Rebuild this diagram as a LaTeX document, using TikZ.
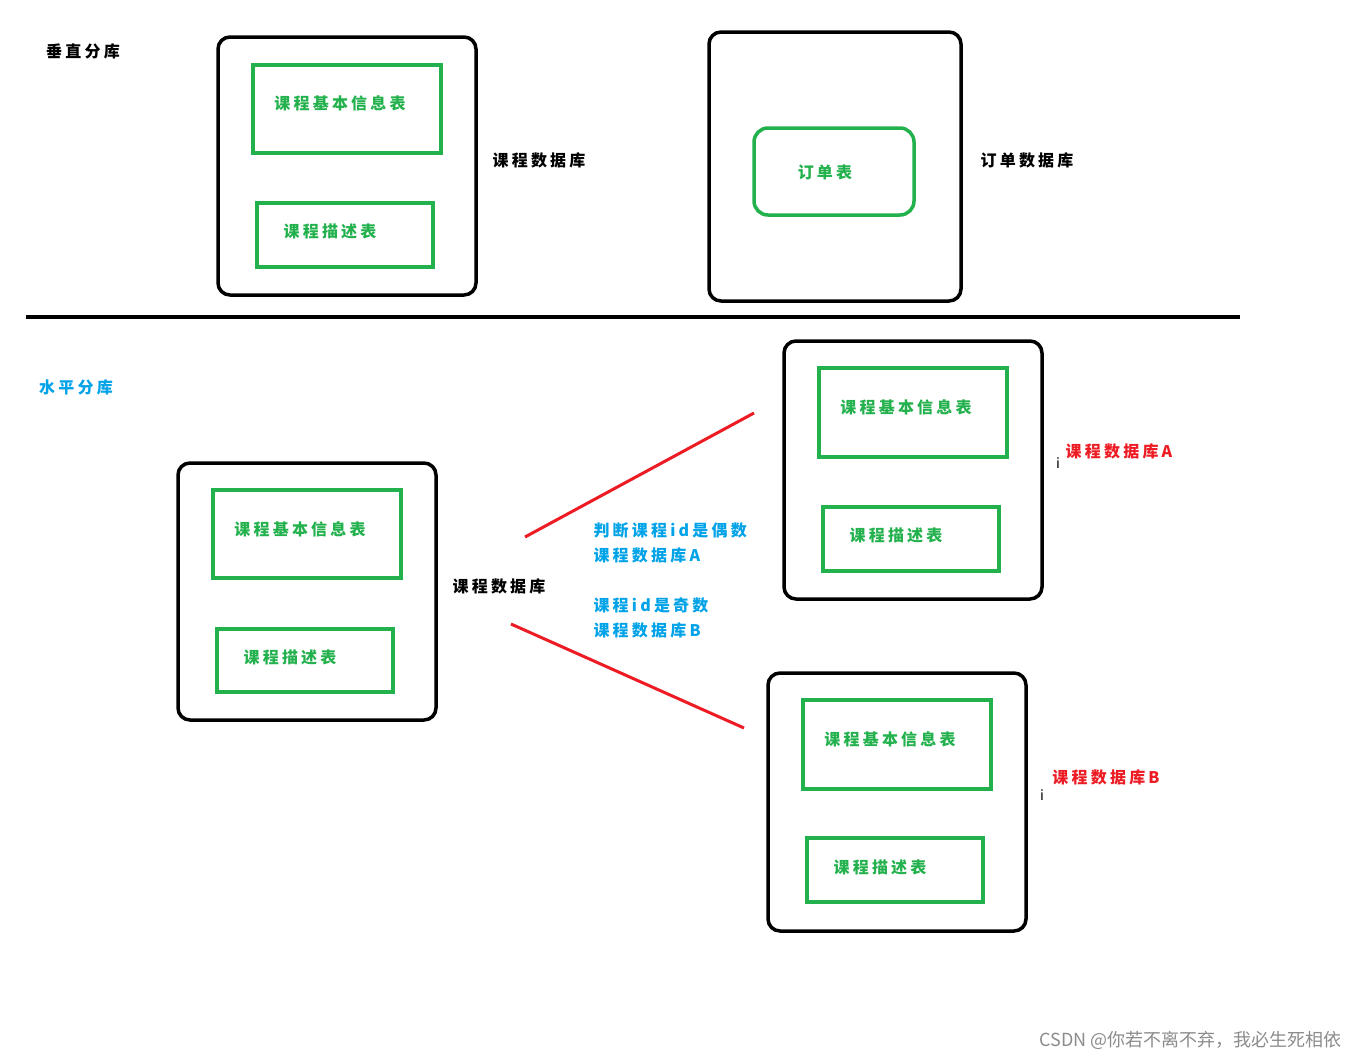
\documentclass[tikz,border=0pt]{standalone}
\usepackage{fontspec}
\setmainfont{Noto Sans CJK SC}[LetterSpace=20]
\newfontfamily\wmfont{Noto Sans CJK SC}
\definecolor{pg}{RGB}{34,177,76}
\definecolor{pr}{RGB}{237,28,36}
\definecolor{pb}{RGB}{0,162,232}
\begin{document}
\begin{tikzpicture}[x=1pt,y=-1pt,
 db/.style={draw=black,line width=3.5pt,rounded corners=12pt},
 tb/.style={draw=pg,line width=3.5pt},
 gt/.style={text=pg,font=\fontsize{16}{18}\selectfont\bfseries},
 lb/.style={font=\fontsize{16}{18}\selectfont\bfseries},
 rl/.style={draw=pr,line width=3pt}]
\useasboundingbox[fill=white] (0,0) rectangle (1351,1060);
\node[lb] (t1) at (83,51) {垂直分库};
\draw[db] (218,37) rectangle (476,295);
\draw[tb] (253,65) rectangle (441,153);
\node[gt] (a1) at (340,103) {课程基本信息表};
\draw[tb] (257,203) rectangle (433,267);
\node[gt] (a2) at (330,231) {课程描述表};
\node[lb] (l1) at (539,160) {课程数据库};
\draw[db] (709,32) rectangle (961,301);
\draw[tb,rounded corners=14pt] (754,128) rectangle (914,215);
\node[gt] (o1) at (825,172) {订单表};
\node[lb] (l2) at (1027,160) {订单数据库};
\draw[line width=4pt] (26,317) -- (1240,317);
\node[lb,text=pb] (t2) at (76,387) {水平分库};
\draw[db] (178,463) rectangle (436,720);
\draw[tb] (213,490) rectangle (401,578);
\node[gt] (b1) at (300,529) {课程基本信息表};
\draw[tb] (217,629) rectangle (393,692);
\node[gt] (b2) at (290,657) {课程描述表};
\node[lb] (l3) at (499,586) {课程数据库};
\draw[db] (784,341) rectangle (1042,599);
\draw[tb] (819,368) rectangle (1007,457);
\node[gt] (c1) at (906,407) {课程基本信息表};
\draw[tb] (823,507) rectangle (999,571);
\node[gt] (c2) at (896,535) {课程描述表};
\node[lb,text=pr] (l4) at (1119,451) {课程数据库A};
\node[font=\wmfont\fontsize{14}{16}\selectfont] (i1) at (1058,463) {i};
\draw[db] (768,673) rectangle (1026,931);
\draw[tb] (803,700) rectangle (991,789);
\node[gt] (d1) at (890,739) {课程基本信息表};
\draw[tb] (807,838) rectangle (983,902);
\node[gt] (d2) at (880,867) {课程描述表};
\node[lb,text=pr] (l5) at (1106,777) {课程数据库B};
\node[font=\wmfont\fontsize{14}{16}\selectfont] (i2) at (1042,795) {i};
\coordinate (r1a) at (525,537); \coordinate (r1b) at (754,413);
\coordinate (r2a) at (511,624); \coordinate (r2b) at (744,728);
\draw[rl] (r1a) -- (r1b);
\draw[rl] (r2a) -- (r2b);
\node[lb,text=pb,anchor=west] (e1) at (590,530) {判断课程id是偶数};
\node[lb,text=pb,anchor=west] (e2) at (590,555) {课程数据库A};
\node[lb,text=pb,anchor=west] (e3) at (590,605) {课程id是奇数};
\node[lb,text=pb,anchor=west] (e4) at (590,630) {课程数据库B};
\node[text=black!45,font=\wmfont\fontsize{18}{20}\selectfont,anchor=east] (w) at (1345,1040) {CSDN @你若不离不弃，我必生死相依};
\end{tikzpicture}
\end{document}
